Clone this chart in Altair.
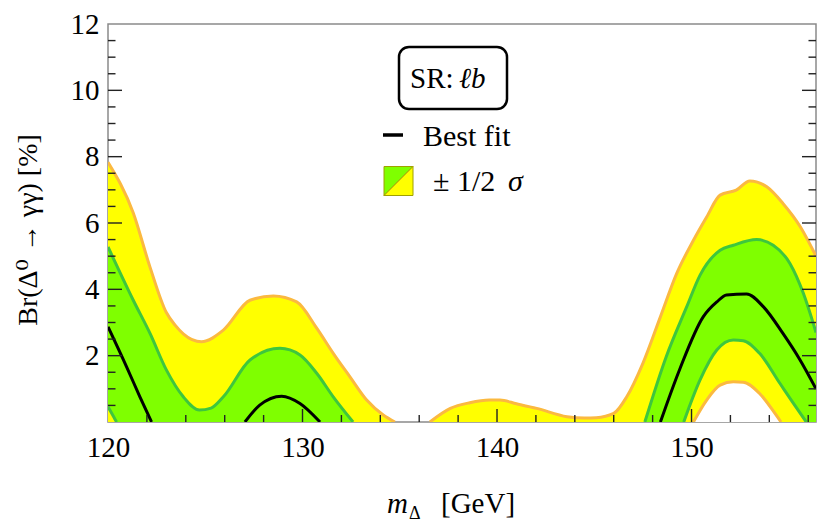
import altair as alt
import pandas as pd

# ---------------- data ----------------
# +2 sigma upper edge (yellow band top), two pieces above zero
y2up_a_x = [120.0, 121.3, 122.16, 123.0, 123.45, 123.87, 124.8, 125.93, 127.3, 128.5, 129.7, 130.73, 131.58, 132.44, 133.3, 134.15, 134.75]
y2up_a_y = [7.83, 6.3, 4.67, 3.3, 2.92, 2.66, 2.42, 2.77, 3.67, 3.8, 3.62, 2.83, 2.07, 1.36, 0.66, 0.21, 0.0]
y2up_b_x = [136.55, 137.6, 138.6, 139.6, 140.15, 141.0, 142.04, 143.6, 144.5, 145.1, 146.0, 146.67, 147.5, 148.4, 149.24, 150.1, 150.78, 151.47, 152.3, 153.0, 153.87, 154.7, 155.6, 156.4]
y2up_b_y = [0.0, 0.41, 0.58, 0.66, 0.66, 0.55, 0.41, 0.16, 0.12, 0.13, 0.26, 0.76, 1.77, 3.17, 4.48, 5.48, 6.18, 6.84, 6.99, 7.27, 7.09, 6.59, 5.88, 5.0]

# +1 sigma upper edge (green band top)
g1up_a_x = [120.0, 121.3, 122.16, 123.0, 123.87, 124.7, 125.3, 125.93, 127.3, 128.84, 129.87, 130.73, 131.58, 132.6]
g1up_a_y = [5.28, 3.67, 2.67, 1.57, 0.76, 0.36, 0.42, 0.76, 1.87, 2.22, 2.02, 1.47, 0.76, 0.0]
g1up_b_x = [147.6, 148.7, 149.75, 150.44, 151.47, 152.15, 153.35, 154.2, 155.06, 155.75, 156.4]
g1up_b_y = [0.0, 1.97, 3.47, 4.43, 5.18, 5.33, 5.5, 5.33, 4.78, 3.88, 2.7]

# best fit
best_a_x = [120.0, 120.95, 121.64, 122.24]
best_a_y = [2.87, 1.67, 0.76, 0.0]
best_b_x = [127.04, 127.8, 128.93, 129.87, 130.9]
best_b_y = [0.0, 0.51, 0.78, 0.56, 0.0]
best_c_x = [148.4, 149.4, 150.6, 151.3, 151.8, 152.83, 153.7, 154.7, 155.58, 156.4]
best_c_y = [0.0, 1.6, 3.17, 3.62, 3.83, 3.86, 3.47, 2.67, 1.87, 1.0]

# -1 sigma lower edge (green band bottom)
g1lo_a_x = [120.0, 120.44]
g1lo_a_y = [0.46, 0.0]
g1lo_b_x = [149.6, 150.44, 151.3, 152.15, 152.66, 153.5, 154.55, 155.24, 155.9]
g1lo_b_y = [0.0, 1.27, 2.17, 2.47, 2.45, 2.07, 1.16, 0.56, 0.0]

# -2 sigma lower edge (yellow band bottom)
y2lo_b_x = [150.1, 150.78, 151.47, 152.15, 152.66, 153.5, 154.3, 154.6]
y2lo_b_y = [0.0, 0.66, 1.11, 1.21, 1.2, 0.86, 0.25, 0.0]

# axis ticks
x_labels = [120, 130, 140, 150]
y_labels = [2, 4, 6, 8, 10, 12]
x_major = [130, 140, 150]
x_minor = [122, 124, 126, 128, 132, 134, 136, 138, 142, 144, 146, 148, 152, 154, 156]
y_major = [2, 4, 6, 8, 10]
y_minor = [0.5, 1, 1.5, 2.5, 3, 3.5, 4.5, 5, 5.5, 6.5, 7, 7.5, 8.5, 9, 9.5, 10.5, 11, 11.5]

# ---------------- build tables ----------------
def curve(name, pieces):
    rows = []
    for i, (xs, ys) in enumerate(pieces):
        for xv, yv in zip(xs, ys):
            rows.append({"seg": f"{name}{i}", "x": xv, "y": yv})
    return pd.DataFrame(rows)

d_y2up = curve("y2up", [(y2up_a_x, y2up_a_y), (y2up_b_x, y2up_b_y)])
d_g1up = curve("g1up", [(g1up_a_x, g1up_a_y), (g1up_b_x, g1up_b_y)])
d_best = curve("best", [(best_a_x, best_a_y), (best_b_x, best_b_y), (best_c_x, best_c_y)])
d_g1lo = curve("g1lo", [(g1lo_a_x, g1lo_a_y), (g1lo_b_x, g1lo_b_y)])
d_y2lo = curve("y2lo", [(y2lo_b_x, y2lo_b_y)])

W, H = 708, 398
FONT = "'Liberation Serif', 'DejaVu Serif', serif"
YELLOW, GREEN = "#ffff00", "#7fff00"
ORANGE, DGREEN = "#fbb940", "#3ec63e"

xscale = alt.Scale(domain=[120, 156.4], nice=False, zero=False)
yscale = alt.Scale(domain=[0, 12], nice=False, zero=False)
xaxis = alt.Axis(values=x_labels, ticks=False, domain=False, grid=False, labelFont=FONT,
                 labelFontSize=29, labelColor="black", labelPadding=11, labelFlush=False, title=None)
yaxis = alt.Axis(values=y_labels, ticks=False, domain=False, grid=False, labelFont=FONT,
                 labelFontSize=29, labelColor="black", labelPadding=9, title=None)
X = alt.X("x:Q", scale=xscale, axis=xaxis)
Y = alt.Y("y:Q", scale=yscale, axis=yaxis, stack=None)


def area(df, color):
    return alt.Chart(df).mark_area(interpolate="monotone", color=color, opacity=1, clip=True).encode(
        x=X, y=Y, detail="seg:N")


def line(df, color, w=3):
    return alt.Chart(df).mark_line(interpolate="monotone", color=color, strokeWidth=w, clip=True).encode(
        x=X, y=Y, detail="seg:N")


layers = [
    area(d_y2up, YELLOW),
    area(d_g1up, GREEN),
    area(d_g1lo, YELLOW),
    area(d_y2lo, "white"),
    line(d_y2up, ORANGE),
    line(d_y2lo, ORANGE),
    line(d_g1up, DGREEN),
    line(d_g1lo, DGREEN),
    line(d_best, "black", 3),
]

# inward ticks
tick_col = "#222222"
t_xmaj = pd.DataFrame({"x": x_major})
t_xmin = pd.DataFrame({"x": x_minor})
t_ymaj = pd.DataFrame({"y": y_major})
t_ymin = pd.DataFrame({"y": y_minor})
layers += [
    alt.Chart(t_xmaj).mark_rule(color=tick_col, strokeWidth=1.4).encode(x=X, y=alt.value(H), y2=alt.value(H - 13)),
    alt.Chart(t_xmin).mark_rule(color=tick_col, strokeWidth=1.4).encode(x=X, y=alt.value(H), y2=alt.value(H - 7)),
    alt.Chart(t_ymaj).mark_rule(color=tick_col, strokeWidth=1.4).encode(y=Y, x=alt.value(0), x2=alt.value(14)),
    alt.Chart(t_ymin).mark_rule(color=tick_col, strokeWidth=1.4).encode(y=Y, x=alt.value(0), x2=alt.value(7.5)),
    alt.Chart(t_ymaj).mark_rule(color=tick_col, strokeWidth=1.4).encode(y=Y, x=alt.value(W), x2=alt.value(W - 14)),
    alt.Chart(t_ymin).mark_rule(color=tick_col, strokeWidth=1.4).encode(y=Y, x=alt.value(W), x2=alt.value(W - 7.5)),
]

one = pd.DataFrame({"k": [0]})


def txt(s, x, y, size=28, style="normal", angle=0, align="left"):
    return alt.Chart(one).mark_text(font=FONT, fontSize=size, fontStyle=style, color="black",
                                    align=align, baseline="alphabetic", angle=angle).encode(
        x=alt.value(x), y=alt.value(y), text=alt.value(s))


# legend block
layers += [
    alt.Chart(one).mark_rect(cornerRadius=10, fill="white", stroke="black", strokeWidth=2.5).encode(
        x=alt.value(291), x2=alt.value(399), y=alt.value(23), y2=alt.value(85)),
    txt("SR:", 302, 64, 29),
    txt("\u2113b", 351, 64, 29, "italic"),
    alt.Chart(one).mark_rule(color="black", strokeWidth=3.5).encode(
        x=alt.value(275), x2=alt.value(295), y=alt.value(111)),
    txt("Best fit", 315, 122, 30),
    alt.Chart(one).mark_point(shape="M-1,-1L1,-1L-1,1Z", size=841, filled=True, fill=GREEN,
                              stroke="#a0a000", strokeWidth=1, opacity=1).encode(
        x=alt.value(290.5), y=alt.value(157)),
    alt.Chart(one).mark_point(shape="M1,-1L1,1L-1,1Z", size=841, filled=True, fill=YELLOW,
                              stroke="#a0a000", strokeWidth=1, opacity=1).encode(
        x=alt.value(290.5), y=alt.value(157)),
    txt("\u00b1 1/2", 325, 167, 30),
    txt("\u03c3", 400, 167, 30, "italic"),
]

# axis titles
layers += [
    txt("m", 279, 489, 29, "italic"),
    txt("\u0394", 301, 495, 18),
    txt("[GeV]", 333, 489, 29),
    txt("Br(\u0394\u2070 \u2192 \u03b3\u03b3) [%]", -71, 206, 28, angle=270, align="center"),
]

chart = alt.layer(*layers).properties(
    width=W, height=H,
    padding={"left": 100, "top": 16, "right": 6, "bottom": 102},
    autosize=alt.AutoSizeParams(type="none"),
).configure_view(stroke="#8a8a8a", strokeWidth=1.5)

chart.save("out.html", embed_options={"renderer": "svg", "actions": False})
